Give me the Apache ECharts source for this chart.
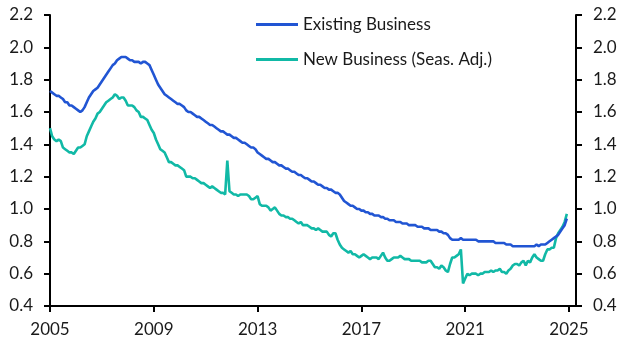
<!DOCTYPE html>
<html>
<head>
<meta charset="utf-8">
<script src="https://cdn.jsdelivr.net/npm/echarts@6/dist/echarts.min.js"></script>
<style>html,body{margin:0;padding:0;background:#fff}#c{width:628px;height:352px}</style>
</head>
<body>
<div id="c"></div>
<script>
var startYear = 2005;
var xTicks = [2005, 2009, 2013, 2017, 2021, 2025];
var seriesNames = ['Existing Business', 'New Business (Seas. Adj.)'];
// Monthly values, Jan 2005 - Dec 2024
var existing = [
 1.73,1.72,1.71,1.70,1.70,1.69,1.68,1.66,1.66,1.64,1.64,1.63,
 1.62,1.61,1.60,1.61,1.63,1.66,1.69,1.71,1.73,1.74,1.75,1.77,
 1.79,1.81,1.83,1.85,1.87,1.89,1.90,1.92,1.93,1.94,1.94,1.94,
 1.93,1.92,1.92,1.91,1.91,1.91,1.90,1.91,1.91,1.90,1.89,1.86,
 1.83,1.80,1.77,1.75,1.73,1.71,1.70,1.69,1.68,1.67,1.66,1.65,
 1.65,1.64,1.63,1.61,1.60,1.60,1.59,1.58,1.57,1.57,1.56,1.55,
 1.54,1.53,1.52,1.52,1.51,1.50,1.49,1.48,1.48,1.47,1.46,1.46,
 1.45,1.44,1.44,1.43,1.42,1.41,1.41,1.40,1.39,1.38,1.38,1.37,
 1.35,1.34,1.33,1.32,1.31,1.31,1.30,1.29,1.29,1.28,1.27,1.27,
 1.26,1.25,1.25,1.24,1.23,1.23,1.22,1.21,1.21,1.20,1.19,1.19,
 1.18,1.17,1.17,1.16,1.15,1.15,1.14,1.13,1.13,1.12,1.12,1.11,
 1.10,1.10,1.09,1.07,1.05,1.04,1.03,1.02,1.02,1.01,1.00,1.00,
 0.99,0.99,0.98,0.98,0.97,0.97,0.96,0.96,0.96,0.95,0.95,0.94,
 0.94,0.93,0.93,0.93,0.92,0.92,0.92,0.91,0.91,0.91,0.90,0.90,
 0.90,0.90,0.89,0.89,0.89,0.88,0.88,0.88,0.87,0.87,0.87,0.87,
 0.86,0.86,0.85,0.85,0.84,0.82,0.81,0.81,0.81,0.81,0.82,0.81,
 0.81,0.81,0.81,0.81,0.81,0.81,0.80,0.80,0.80,0.80,0.80,0.80,
 0.80,0.80,0.79,0.79,0.79,0.79,0.79,0.78,0.78,0.78,0.77,0.77,
 0.77,0.77,0.77,0.77,0.77,0.77,0.77,0.77,0.77,0.78,0.77,0.78,
 0.78,0.78,0.79,0.80,0.81,0.82,0.83,0.84,0.86,0.88,0.90,0.94
];
var newBusiness = [
 1.50,1.45,1.43,1.42,1.43,1.42,1.38,1.37,1.36,1.35,1.35,1.34,
 1.36,1.38,1.38,1.39,1.40,1.45,1.48,1.51,1.54,1.56,1.59,1.60,
 1.62,1.64,1.66,1.67,1.68,1.69,1.71,1.70,1.68,1.69,1.69,1.67,
 1.64,1.64,1.64,1.63,1.61,1.60,1.57,1.57,1.56,1.55,1.52,1.49,
 1.47,1.43,1.40,1.37,1.36,1.35,1.32,1.29,1.29,1.28,1.27,1.27,
 1.26,1.25,1.24,1.20,1.20,1.20,1.19,1.19,1.18,1.17,1.16,1.16,
 1.15,1.14,1.13,1.14,1.13,1.12,1.11,1.10,1.10,1.09,1.30,1.11,
 1.10,1.09,1.09,1.08,1.09,1.09,1.09,1.09,1.08,1.06,1.06,1.07,
 1.08,1.03,1.02,1.02,1.02,1.01,0.99,1.00,1.01,0.99,0.97,0.96,
 0.96,0.95,0.95,0.94,0.94,0.93,0.92,0.91,0.92,0.90,0.90,0.90,
 0.89,0.88,0.88,0.87,0.88,0.87,0.86,0.86,0.86,0.84,0.83,0.85,
 0.85,0.81,0.78,0.76,0.75,0.74,0.73,0.74,0.72,0.72,0.71,0.70,
 0.71,0.72,0.71,0.70,0.69,0.70,0.70,0.70,0.69,0.71,0.73,0.70,
 0.68,0.68,0.69,0.70,0.70,0.70,0.71,0.70,0.69,0.69,0.69,0.68,
 0.68,0.68,0.68,0.68,0.67,0.67,0.67,0.68,0.68,0.66,0.64,0.64,
 0.63,0.65,0.64,0.62,0.61,0.66,0.70,0.70,0.71,0.72,0.75,0.54,
 0.57,0.60,0.59,0.60,0.60,0.60,0.59,0.60,0.60,0.61,0.61,0.61,
 0.62,0.61,0.62,0.62,0.63,0.61,0.61,0.60,0.62,0.63,0.65,0.66,
 0.66,0.65,0.67,0.68,0.65,0.68,0.67,0.70,0.72,0.70,0.69,0.68,
 0.68,0.72,0.75,0.75,0.76,0.76,0.82,0.85,0.87,0.89,0.92,0.97
];

function toPairs(arr) {
  return arr.map(function (v, i) { return [startYear + i / 12, v]; });
}

var FONT = 'Lato';
var TXT = '#1a1a1a';
var chart = echarts.init(document.getElementById('c'), null, {renderer: 'canvas'});
var yAxisCommon = {
  type: 'value', min: 0.4, max: 2.2, interval: 0.2,
  axisLine: {show: true, lineStyle: {color: '#000', width: 2}},
  axisTick: {show: true, length: 6, lineStyle: {color: '#000', width: 2}},
  splitLine: {show: false},
  axisLabel: {
    margin: 17, color: TXT, fontFamily: FONT, fontSize: 17,
    formatter: function (v) { return v.toFixed(1); }
  }
};
chart.setOption({
  animation: false,
  backgroundColor: '#fff',
  grid: {left: 50, right: 52, top: 15, bottom: 46, containLabel: false},
  legend: {
    orient: 'vertical', left: 256, top: 16, itemGap: 18, padding: 0,
    icon: 'rect', itemWidth: 42, itemHeight: 3,
    textStyle: {color: TXT, fontFamily: FONT, fontSize: 17},
    data: seriesNames
  },
  xAxis: {
    type: 'value', min: 2005, max: 2025.27,
    axisLine: {show: true, onZero: false, lineStyle: {color: '#000', width: 2}},
    axisTick: {show: true, length: 6, customValues: xTicks, lineStyle: {color: '#000', width: 2}},
    splitLine: {show: false},
    axisLabel: {
      customValues: xTicks, margin: 15, color: TXT, fontFamily: FONT, fontSize: 17,
      formatter: function (v) { return String(Math.round(v)); }
    }
  },
  yAxis: [
    Object.assign({position: 'left'}, yAxisCommon),
    Object.assign({position: 'right'}, yAxisCommon)
  ],
  series: [
    {
      name: seriesNames[0], type: 'line', yAxisIndex: 0, showSymbol: false, symbol: 'none',
      data: toPairs(existing), lineStyle: {color: '#2155d3', width: 2.6}, itemStyle: {color: '#2155d3'}, z: 3
    },
    {
      name: seriesNames[1], type: 'line', yAxisIndex: 0, showSymbol: false, symbol: 'none',
      data: toPairs(newBusiness), lineStyle: {color: '#11b9a6', width: 2.6}, itemStyle: {color: '#11b9a6'}, z: 2
    }
  ]
});
</script>
</body>
</html>
